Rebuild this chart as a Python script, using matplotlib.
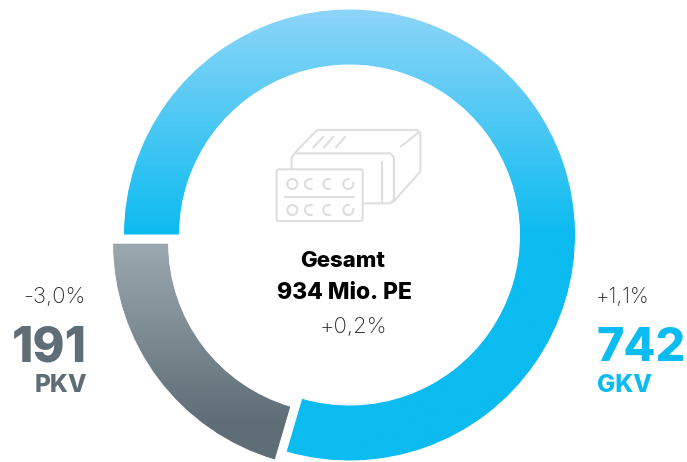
import matplotlib
matplotlib.use("Agg")
import matplotlib.pyplot as plt
from matplotlib.patches import Arc, FancyBboxPatch
from matplotlib.colors import LinearSegmentedColormap
import numpy as np

# data
segments = ['PKV', 'GKV']
values = [191, 742]
changes = ['-3,0%', '+1,1%']
total_lines = ['Gesamt', '934 Mio. PE']
total_change = '+0,2%'

GREY = '#5f6e76'
BLUE = '#0cbbf0'
ICON = '#dedede'
TXT = '#2a2a2a'
plt.rcParams['font.family'] = ['Inter', 'DejaVu Sans']

H = 462
fig = plt.figure(figsize=(6.87, 4.62), dpi=100)
ax = fig.add_axes([0, 0, 1, 1])

# ring, PKV pushed out a little
wedges, _ = ax.pie(values, startangle=180, radius=226, center=(349.5, H - 235),
                   explode=[13.6, 0], colors=['none', 'none'],
                   wedgeprops=dict(width=56, edgecolor='white', linewidth=0.7, zorder=3))

def fill(wedge, cmap, top, bottom):
    grad = np.linspace(0, 1, 400).reshape(-1, 1)
    im = ax.imshow(grad, cmap=cmap, extent=(90, 600, H - bottom, H - top),
                   aspect='auto', zorder=2, vmin=0, vmax=1)
    im.set_clip_path(wedge)

fill(wedges[0], LinearSegmentedColormap.from_list('g', [(0, '#9ba8af'), (0.5, GREY), (1, GREY)]), 243, 600)
fill(wedges[1], LinearSegmentedColormap.from_list('b', [(0, '#8dd5f8'), (0.5, BLUE), (1, BLUE)]), 9, 461)

ax.set_xlim(0, 687)
ax.set_ylim(0, H)
ax.axis('off')

# icon
def ix(x):
    return 260 + x / 3
def iy(y):
    return H - (110 + y / 3)
def line(xs, ys):
    ax.plot([ix(x) for x in xs], [iy(y) for y in ys], color=ICON, lw=1.5,
            solid_capstyle='round', solid_joinstyle='round', zorder=4)

line([95, 95, 105, 390, 402, 402, 392, 310], [178, 142, 130, 130, 142, 268, 280, 280])
line([105, 165, 175, 472, 481, 481, 400], [128, 66, 60, 60, 68, 185, 275])
line([475, 422], [68, 110])
line([367, 367], [155, 280])
line([190, 160], [80, 112])
line([220, 192], [80, 112])
line([255, 228], [80, 112])
ax.add_patch(FancyBboxPatch((ix(50) + 2, iy(333) + 2), 258 / 3 - 4, 155 / 3 - 4,
                            boxstyle='round,pad=2', fc='white', ec=ICON, lw=1.5, zorder=4))
line([75, 282], [260, 260])
for y in [222, 300]:
    ax.add_patch(Arc((ix(97), iy(y)), 10, 10, color=ICON, lw=1.5, zorder=5))
    for x in [150, 205]:
        ax.add_patch(Arc((ix(x), iy(y)), 10, 10, theta1=60, theta2=300, color=ICON, lw=1.5, zorder=5))
    ax.add_patch(Arc((ix(265), iy(y)), 10, 10, theta1=75, theta2=385, color=ICON, lw=1.5, zorder=5))

# centre text
ax.text(343, H - 267, total_lines[0], ha='center', va='baseline', fontsize=16, fontweight='heavy', color='black')
ax.text(344, H - 299, total_lines[1], ha='center', va='baseline', fontsize=16.5, fontweight='heavy', color='black')
ax.text(353, H - 333, total_change, ha='center', va='baseline', fontsize=16, fontweight='light', color=TXT)

# left label
ax.text(85, H - 303, changes[0], ha='right', va='baseline', fontsize=16, fontweight='light', color=TXT)
ax.text(87, H - 361, str(values[0]), ha='right', va='baseline', fontsize=35, fontweight='heavy', color=GREY)
ax.text(87, H - 392, segments[0], ha='right', va='baseline', fontsize=17.5, fontweight='heavy', color=GREY)

# right label
ax.text(596, H - 303, changes[1], ha='left', va='baseline', fontsize=15, fontweight='light', color=TXT)
ax.text(596, H - 361, str(values[1]), ha='left', va='baseline', fontsize=33.5, fontweight='heavy', color=BLUE)
ax.text(597, H - 392, segments[1], ha='left', va='baseline', fontsize=17.5, fontweight='heavy', color=BLUE)

fig.savefig('out.png', dpi=100)
